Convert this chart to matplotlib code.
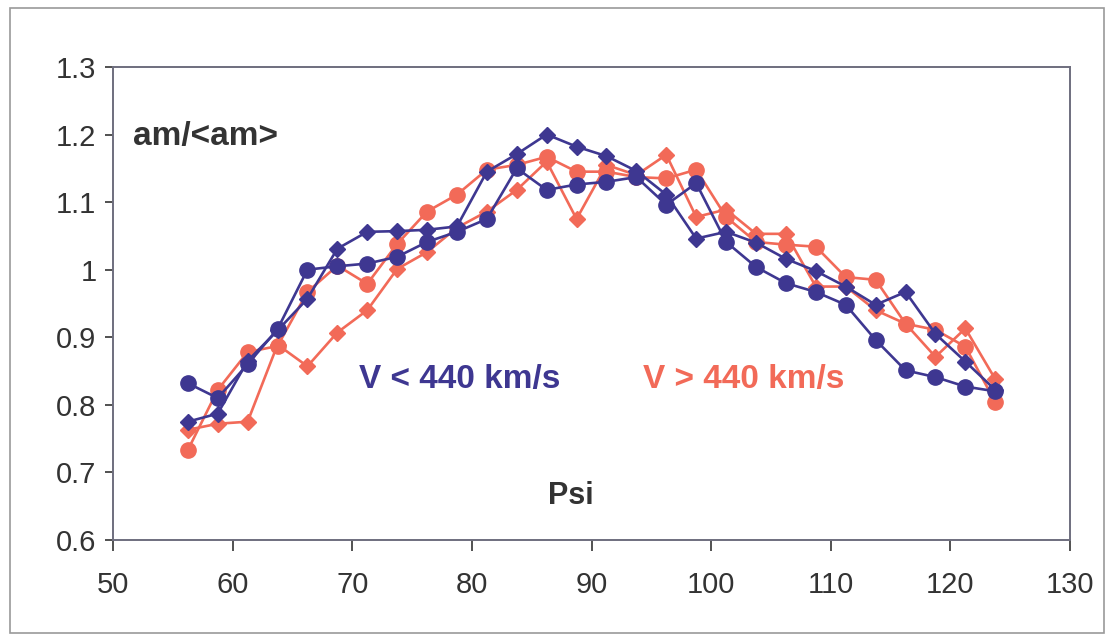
import matplotlib
matplotlib.use('Agg')
import matplotlib.pyplot as plt
from matplotlib.patches import Rectangle

# Psi bin centres
psi = [56.25, 58.75, 61.25, 63.75, 66.25, 68.75, 71.25, 73.75, 76.25, 78.75,
       81.25, 83.75, 86.25, 88.75, 91.25, 93.75, 96.25, 98.75, 101.25, 103.75,
       106.25, 108.75, 111.25, 113.75, 116.25, 118.75, 121.25, 123.75]

# V < 440 km/s
slow_diamond = [0.775, 0.787, 0.865, 0.91, 0.957, 1.031, 1.056, 1.057, 1.059, 1.064,
                1.145, 1.171, 1.2, 1.182, 1.168, 1.146, 1.111, 1.046, 1.056, 1.04,
                1.016, 0.998, 0.975, 0.948, 0.967, 0.905, 0.864, 0.822]
slow_circle = [0.832, 0.81, 0.86, 0.912, 1.0, 1.005, 1.009, 1.019, 1.041, 1.056,
               1.075, 1.15, 1.118, 1.126, 1.13, 1.137, 1.096, 1.128, 1.041, 1.004,
               0.98, 0.967, 0.948, 0.896, 0.851, 0.841, 0.827, 0.82]

# V > 440 km/s
fast_diamond = [0.763, 0.772, 0.775, 0.889, 0.857, 0.907, 0.94, 1.001, 1.026, 1.062,
                1.086, 1.118, 1.16, 1.075, 1.155, 1.14, 1.17, 1.078, 1.089, 1.053,
                1.053, 0.975, 0.975, 0.94, 0.92, 0.871, 0.913, 0.838]
fast_circle = [0.733, 0.822, 0.878, 0.887, 0.967, 1.006, 0.979, 1.038, 1.086, 1.111,
               1.148, 1.155, 1.167, 1.145, 1.145, 1.137, 1.135, 1.148, 1.078, 1.041,
               1.037, 1.034, 0.989, 0.985, 0.92, 0.911, 0.886, 0.804]

BLUE = '#3e3791'
RED = '#f26a58'
AXC = '#6e6e7e'

plt.rcParams['font.family'] = ['Liberation Sans', 'DejaVu Sans']

fig = plt.figure(figsize=(11.16, 6.41), dpi=100)
fig.patches.append(Rectangle((0.009, 0.012), 0.98, 0.975, transform=fig.transFigure,
                             fill=False, edgecolor='#9a9a9a', linewidth=1.2))
ax = fig.add_axes([0.1013, 0.1576, 0.8575, 0.738])

ax.plot(psi, fast_diamond, color=RED, marker='D', ms=8.5, lw=1.9, zorder=2)
ax.plot(psi, fast_circle, color=RED, marker='o', ms=11, lw=1.9, zorder=2)
ax.plot(psi, slow_diamond, color=BLUE, marker='D', ms=8.5, lw=1.9, zorder=3)
ax.plot(psi, slow_circle, color=BLUE, marker='o', ms=11, lw=1.9, zorder=3)

ax.set_xlim(50, 130)
ax.set_ylim(0.6, 1.3)
ax.set_xticks(range(50, 131, 10))
ax.set_yticks([0.6, 0.7, 0.8, 0.9, 1.0, 1.1, 1.2, 1.3])
ax.set_yticklabels(['0.6', '0.7', '0.8', '0.9', '1', '1.1', '1.2', '1.3'])
ax.tick_params(axis='both', labelsize=21, colors='#333333', direction='out', width=1.2)
ax.tick_params(axis='x', length=8, pad=14)
ax.tick_params(axis='y', length=6, pad=6)
for s in ax.spines.values():
    s.set_color(AXC)
    s.set_linewidth(1.4)

ax.text(51.7, 1.197, 'am/<am>', fontsize=24, fontweight='bold', color='#333333',
        ha='left', va='center')
ax.text(70.6, 0.838, 'V < 440 km/s', fontsize=24, fontweight='bold', color=BLUE,
        ha='left', va='center')
ax.text(94.3, 0.838, 'V > 440 km/s', fontsize=24, fontweight='bold', color=RED,
        ha='left', va='center')
ax.text(88.3, 0.665, 'Psi', fontsize=22, fontweight='bold', color='#333333',
        ha='center', va='center')

fig.savefig('out.png', dpi=100)
